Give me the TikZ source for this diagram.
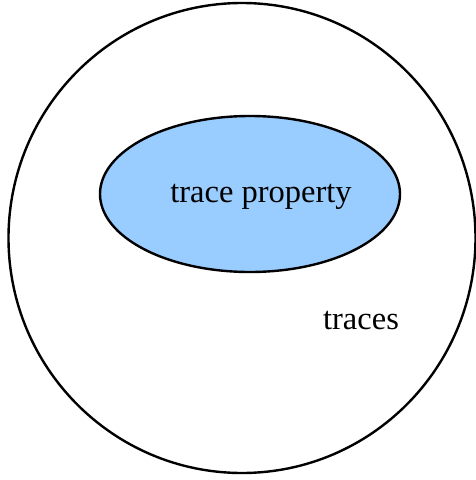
\documentclass[tikz,border=0pt]{standalone}
\usepackage{fontspec}
\setmainfont{Liberation Serif}
\definecolor{propblue}{HTML}{99CCFF}
\begin{document}
\begin{tikzpicture}[x=1pt,y=-1pt,
  outline/.style={draw=black,line width=2.4pt},
  label/.style={anchor=base,inner sep=0pt,font=\fontsize{32.5}{38}\selectfont}]
\useasboundingbox (0,0) rectangle (476,480);
% the set of all traces
\draw[outline] (242,238) ellipse [x radius=233.5,y radius=235];
% a property as a subset of the traces
\draw[outline,fill=propblue] (250,194) ellipse [x radius=150,y radius=78];
\node[label] (prop) at (261,202) {trace property};
\node[label] (traces) at (361,329) {traces};
\end{tikzpicture}
\end{document}
